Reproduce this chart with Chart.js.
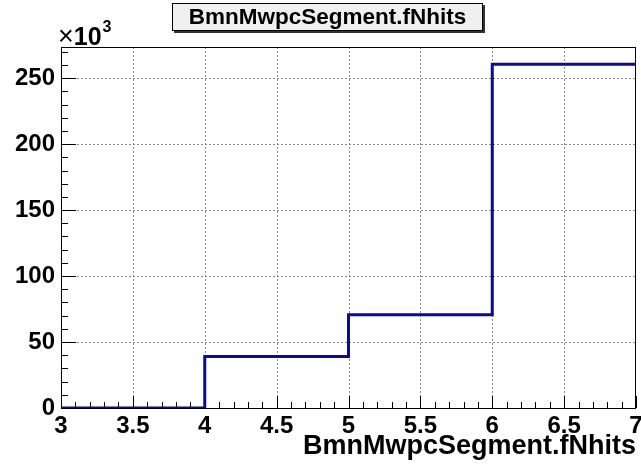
<!DOCTYPE html>
<html>
<head>
<meta charset="utf-8">
<script src="https://cdn.jsdelivr.net/npm/chart.js@4.4.0/dist/chart.umd.min.js"></script>
<style>
    html, body { margin: 0; padding: 0; background: #fff; }
    #wrap { width: 641px; height: 468px; position: relative; }
</style>
</head>
<body>
<div id="wrap"><canvas id="graf"></canvas></div>
<script>
// histogram BmnMwpcSegment.fNhits
let titulo = 'BmnMwpcSegment.fNhits'
let binEdges = [3, 4, 5, 6, 7]
let binCounts = [0, 39000, 70700, 260600]
let xTicks = [3, 3.5, 4, 4.5, 5, 5.5, 6, 6.5, 7]
let yTicks = [0, 50, 100, 150, 200, 250] // em unidades de 10^3

let fonte = 'Liberation Sans, Arial, Helvetica, sans-serif'

// pontos do degrau: cada borda esquerda com o conteudo do bin, a ultima repete o ultimo bin
let pontos = []
for (let i = 0; i < binEdges.length; i++) {
    pontos.push({ x: binEdges[i], y: binCounts[Math.min(i, binCounts.length - 1)] })
}
let yMax = Math.max(...binCounts) * 1.05

// grade pontilhada, marcas internas (estilo ROOT), moldura, caixa de titulo e x10^3
const estiloRoot = {
    id: 'estiloRoot',
    beforeDatasetsDraw(chart) {
        const { ctx, chartArea: a, scales: { x, y } } = chart
        ctx.save()

        // grade
        ctx.strokeStyle = '#8a8a8a'
        ctx.lineWidth = 1
        ctx.setLineDash([2, 2])
        ctx.beginPath()
        for (let v of xTicks) {
            let px = Math.round(x.getPixelForValue(v)) + 0.5
            if (px <= a.left + 1 || px >= a.right - 1) continue
            ctx.moveTo(px, a.top); ctx.lineTo(px, a.bottom)
        }
        for (let v of yTicks) {
            let py = Math.round(y.getPixelForValue(v * 1000)) + 0.5
            if (py <= a.top + 1 || py >= a.bottom - 1) continue
            ctx.moveTo(a.left, py); ctx.lineTo(a.right, py)
        }
        ctx.stroke()
        ctx.setLineDash([])

        // moldura
        ctx.strokeStyle = '#000'
        ctx.strokeRect(Math.round(a.left) + 0.5, Math.round(a.top) + 0.5,
            Math.round(a.right - a.left) - 1, Math.round(a.bottom - a.top))

        // marcas do eixo x (principais a cada 0.5, secundarias a cada 0.1)
        ctx.beginPath()
        for (let i = 0; i < xTicks.length; i++) {
            let px = Math.round(x.getPixelForValue(xTicks[i])) + 0.5
            ctx.moveTo(px, a.bottom); ctx.lineTo(px, a.bottom - 12)
            if (i < xTicks.length - 1) {
                let passo = (xTicks[i + 1] - xTicks[i]) / 5
                for (let k = 1; k < 5; k++) {
                    let pm = Math.round(x.getPixelForValue(xTicks[i] + k * passo)) + 0.5
                    ctx.moveTo(pm, a.bottom); ctx.lineTo(pm, a.bottom - 6)
                }
            }
        }
        // marcas do eixo y (principais a cada 50, secundarias a cada 10)
        let passoY = (yTicks[1] - yTicks[0]) / 5
        for (let v = yTicks[0]; v * 1000 <= yMax; v += passoY) {
            let py = Math.round(y.getPixelForValue(v * 1000)) + 0.5
            let principal = yTicks.includes(v)
            ctx.moveTo(a.left, py); ctx.lineTo(a.left + (principal ? 15 : 7), py)
        }
        ctx.stroke()

        // caixa do titulo com sombra
        ctx.fillStyle = '#333'
        ctx.fillRect(174, 5, 311, 28)
        ctx.fillStyle = '#f0f0f0'
        ctx.fillRect(172, 3, 311, 28)
        ctx.strokeStyle = '#000'
        ctx.strokeRect(172.5, 3.5, 310, 27)
        ctx.fillStyle = '#000'
        ctx.font = 'bold 22.5px ' + fonte
        ctx.textAlign = 'center'
        ctx.textBaseline = 'middle'
        ctx.fillText(titulo, 327.5, 18)

        // fator de escala do eixo y
        ctx.textAlign = 'left'
        ctx.textBaseline = 'alphabetic'
        ctx.font = '27px ' + fonte
        ctx.fillText('\u00d7', a.left - 3, 45)
        let w = ctx.measureText('\u00d7').width
        ctx.font = 'bold 25px ' + fonte
        ctx.fillText('10', a.left - 3 + w, 45)
        let w2 = ctx.measureText('10').width
        ctx.font = 'bold 16px ' + fonte
        ctx.fillText('3', a.left - 2 + w + w2, 32)

        ctx.restore()
    }
}

let ctx = document.getElementById('graf').getContext('2d')

const config = {
    type: 'line',
    data: {
        datasets: [{
            data: pontos,
            stepped: 'before',
            borderColor: '#0a0a96',
            borderWidth: 3,
            pointRadius: 0,
            fill: false
        }]
    },
    options: {
        responsive: true,
        maintainAspectRatio: false,
        animation: false,
        layout: { padding: { top: 47, right: 5, left: 0, bottom: 0 } },
        plugins: {
            legend: { display: false },
            tooltip: { enabled: false }
        },
        scales: {
            x: {
                type: 'linear',
                min: binEdges[0],
                max: binEdges[binEdges.length - 1],
                grid: { display: false, drawTicks: false },
                border: { display: false },
                afterBuildTicks: (s) => { s.ticks = xTicks.map(v => ({ value: v })) },
                afterFit: (s) => { s.height = 60; s.paddingLeft = 0; s.paddingRight = 0 },
                ticks: {
                    color: '#000',
                    padding: 4,
                    maxRotation: 0,
                    autoSkip: false,
                    font: { family: fonte, size: 24, weight: 'bold' },
                    callback: (v) => v
                },
                title: {
                    display: true,
                    text: titulo,
                    align: 'end',
                    color: '#000',
                    padding: { top: 0, bottom: 5 },
                    font: { family: fonte, size: 27, weight: 'bold' }
                }
            },
            y: {
                min: 0,
                max: yMax,
                grid: { display: false, drawTicks: false },
                border: { display: false },
                afterBuildTicks: (s) => { s.ticks = yTicks.map(v => ({ value: v * 1000 })) },
                afterFit: (s) => { s.width = 61; s.paddingTop = 0; s.paddingBottom = 0 },
                ticks: {
                    color: '#000',
                    padding: 6,
                    autoSkip: false,
                    font: { family: fonte, size: 24, weight: 'bold' },
                    callback: (v) => v / 1000
                }
            }
        }
    },
    plugins: [estiloRoot]
}

let meuGrafico = new Chart(ctx, config)
</script>
</body>
</html>
